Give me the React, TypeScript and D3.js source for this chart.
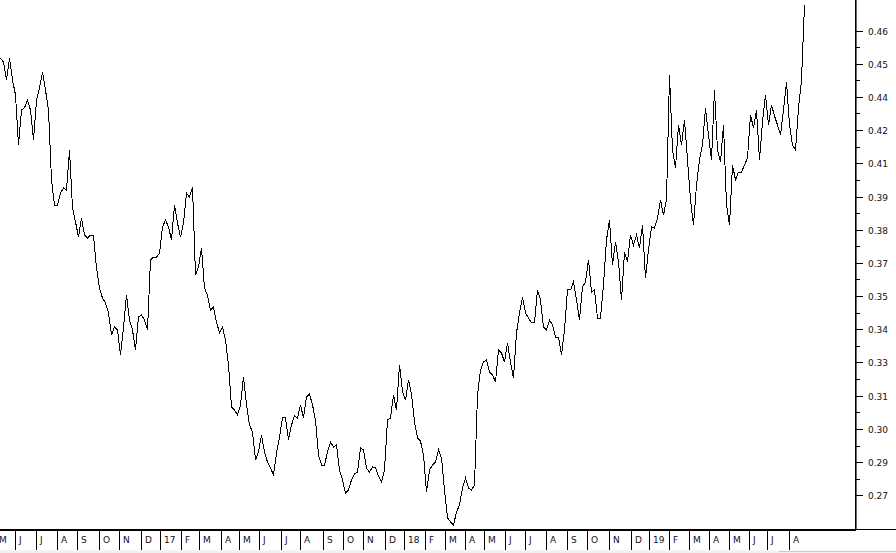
import React from "react";
import * as d3 from "d3";

// Closing prices sampled every 3 trading days, May 2016 -> Aug 2019
const SAMPLE_EVERY = 3;
const closes: number[] = [
  0.4511, 0.4495, 0.4421, 0.4511, 0.4421, 0.4360, 0.4155, 0.4298, 0.4307, 0.4339,
  0.4298, 0.4175, 0.4339, 0.4388, 0.4454, 0.4380, 0.4298, 0.4012, 0.3909, 0.3909,
  0.3958, 0.3979, 0.3971, 0.4134, 0.3897, 0.3840, 0.3778, 0.3856, 0.3786, 0.3774,
  0.3786, 0.3786, 0.3651, 0.3569, 0.3528, 0.3508, 0.3467, 0.3377, 0.3409, 0.3397,
  0.3295, 0.3405, 0.3540, 0.3438, 0.3397, 0.3315, 0.3450, 0.3459, 0.3438, 0.3397,
  0.3684, 0.3696, 0.3696, 0.3712, 0.3819, 0.3848, 0.3819, 0.3766, 0.3909, 0.3835,
  0.3778, 0.3835, 0.3958, 0.3942, 0.3983, 0.3622, 0.3655, 0.3733, 0.3569, 0.3540,
  0.3479, 0.3491, 0.3430, 0.3385, 0.3409, 0.3356, 0.3254, 0.3082, 0.3069, 0.3049,
  0.3090, 0.3205, 0.3090, 0.3008, 0.2979, 0.2865, 0.2897, 0.2967, 0.2897, 0.2856,
  0.2832, 0.2803, 0.2893, 0.2959, 0.3037, 0.3037, 0.2947, 0.3008, 0.3045, 0.3037,
  0.3090, 0.3037, 0.3123, 0.3135, 0.3090, 0.3028, 0.2885, 0.2844, 0.2844, 0.2897,
  0.2938, 0.2918, 0.2926, 0.2824, 0.2783, 0.2729, 0.2742, 0.2783, 0.2807, 0.2815,
  0.2914, 0.2906, 0.2832, 0.2815, 0.2836, 0.2832, 0.2799, 0.2774, 0.2824, 0.3028,
  0.3037, 0.3131, 0.3069, 0.3254, 0.3147, 0.3110, 0.3192, 0.3135, 0.3020, 0.2955,
  0.2942, 0.2885, 0.2733, 0.2824, 0.2844, 0.2856, 0.2906, 0.2873, 0.2742, 0.2627,
  0.2611, 0.2598, 0.2651, 0.2680, 0.2750, 0.2791, 0.2750, 0.2742, 0.2762, 0.3131,
  0.3233, 0.3266, 0.3274, 0.3225, 0.3213, 0.3184, 0.3315, 0.3303, 0.3266, 0.3344,
  0.3266, 0.3200, 0.3385, 0.3467, 0.3532, 0.3467, 0.3446, 0.3426, 0.3426, 0.3561,
  0.3520, 0.3409, 0.3397, 0.3438, 0.3418, 0.3368, 0.3368, 0.3295, 0.3397, 0.3561,
  0.3561, 0.3594, 0.3520, 0.3438, 0.3573, 0.3594, 0.3684, 0.3553, 0.3561, 0.3446,
  0.3446, 0.3581, 0.3766, 0.3848, 0.3663, 0.3758, 0.3676, 0.3520, 0.3717, 0.3676,
  0.3786, 0.3745, 0.3786, 0.3733, 0.3827, 0.3610, 0.3725, 0.3819, 0.3815, 0.3856,
  0.3930, 0.3868, 0.3930, 0.4442, 0.4134, 0.4061, 0.4237, 0.4155, 0.4257, 0.4094,
  0.3930, 0.3827, 0.3991, 0.4094, 0.4155, 0.4307, 0.4196, 0.4094, 0.4380, 0.4134,
  0.4085, 0.4237, 0.3909, 0.3827, 0.4073, 0.4012, 0.4044, 0.4044, 0.4073, 0.4102,
  0.4278, 0.4225, 0.4298, 0.4094, 0.4249, 0.4360, 0.4237, 0.4319, 0.4274, 0.4237,
  0.4196, 0.4298, 0.4413, 0.4237, 0.4155, 0.4134, 0.4307, 0.4421, 0.4728,
];

// Month boundaries (trading-day index of first session) and labels
const monthLabels: string[] = [
  "M", "J", "J", "A", "S", "O", "N", "D",
  "17", "F", "M", "A", "M", "J", "J", "A", "S", "O", "N", "D",
  "18", "F", "M", "A", "M", "J", "J", "A", "S", "O", "N", "D",
  "19", "F", "M", "A", "M", "J", "J", "A",
];
const monthStartDays: number[] = [
  -5, 15, 36, 57, 77, 99, 119, 141,
  160, 181, 199, 221, 239, 259, 281, 300, 323, 343, 363, 385,
  404, 425, 445, 465, 484, 505, 525, 546, 567, 587, 609, 631,
  649, 669, 689, 709, 729, 749, 767, 789,
];

// Y axis ticks (values and their printed labels)
const yTickValues: number[] = [
  0.272, 0.2856, 0.2992, 0.3128, 0.3264, 0.34, 0.3536, 0.3672,
  0.3808, 0.3944, 0.408, 0.4216, 0.4352, 0.4488, 0.4624,
];
const yTickLabels: string[] = [
  "0.27", "0.29", "0.30", "0.31", "0.33", "0.34", "0.35", "0.37",
  "0.38", "0.39", "0.41", "0.42", "0.44", "0.45", "0.46",
];

const W = 896;
const H = 553;
const AXIS_X = 855;
const AXIS_Y = 529;
const FONT = "'DejaVu Sans', Verdana, sans-serif";

export default function App() {
  const lastDay = (closes.length - 1) * SAMPLE_EVERY;
  const x = d3.scaleLinear().domain([0, lastDay]).range([0, lastDay]);
  const y = d3.scaleLinear().domain([yTickValues[0], yTickValues[yTickValues.length - 1]]).range([495.3, 30.5]);

  const line = d3
    .line<number>()
    .x((_, i) => x(i * SAMPLE_EVERY) + 0.5)
    .y((d) => y(d));

  const minorTicks = yTickValues.slice(1).map((v, i) => (v + yTickValues[i]) / 2);

  return (
    <svg
      width={W}
      height={H}
      style={{ position: "absolute", left: 0, top: 0, background: "#fff" }}
      fontFamily={FONT}
    >
      <rect x={0} y={0} width={W} height={H} fill="#fff" />
      <defs>
        <clipPath id="plot">
          <rect x={0} y={0} width={AXIS_X} height={AXIS_Y} />
        </clipPath>
      </defs>
      <path
        d={line(closes) || ""}
        fill="none"
        stroke="#000"
        strokeWidth={1}
        shapeRendering="crispEdges"
        clipPath="url(#plot)"
      />

      {/* right axis */}
      <rect x={AXIS_X} y={0} width={1.6} height={AXIS_Y + 1} fill="#000" />
      {yTickValues.map((v, i) => {
        const yy = Math.round(y(v)) + 0.5;
        return (
          <g key={"yt" + i}>
            <line x1={AXIS_X} x2={AXIS_X + 8} y1={yy} y2={yy} stroke="#000" strokeWidth={1} />
            <text x={AXIS_X + 13} y={yy + 3.3} fontSize={9} fill="#111">
              {yTickLabels[i]}
            </text>
          </g>
        );
      })}
      {minorTicks.map((v, i) => {
        const yy = Math.round(y(v)) + 0.5;
        return <line key={"ym" + i} x1={AXIS_X} x2={AXIS_X + 5} y1={yy} y2={yy} stroke="#000" strokeWidth={1} />;
      })}

      {/* bottom axis */}
      <rect x={0} y={AXIS_Y} width={AXIS_X + 1} height={2} fill="#000" />
      <line x1={AXIS_X} x2={W} y1={AXIS_Y + 0.5} y2={AXIS_Y + 0.5} stroke="#000" strokeWidth={1} />
      {monthStartDays.map((d, i) => {
        const xx = Math.round(x(d)) + 0.5;
        return (
          <g key={"mt" + i}>
            <line x1={xx} x2={xx} y1={AXIS_Y + 2} y2={550} stroke="#000" strokeWidth={1} />
            <text x={xx + 3.5} y={543} fontSize={9} fill="#111">
              {monthLabels[i]}
            </text>
          </g>
        );
      })}
      <rect x={0} y={550.5} width={W} height={2.5} fill="#f0f0f0" />
      <line x1={779} x2={W} y1={551.5} y2={551.5} stroke="#c8c8c8" strokeWidth={1} />
    </svg>
  );
}
